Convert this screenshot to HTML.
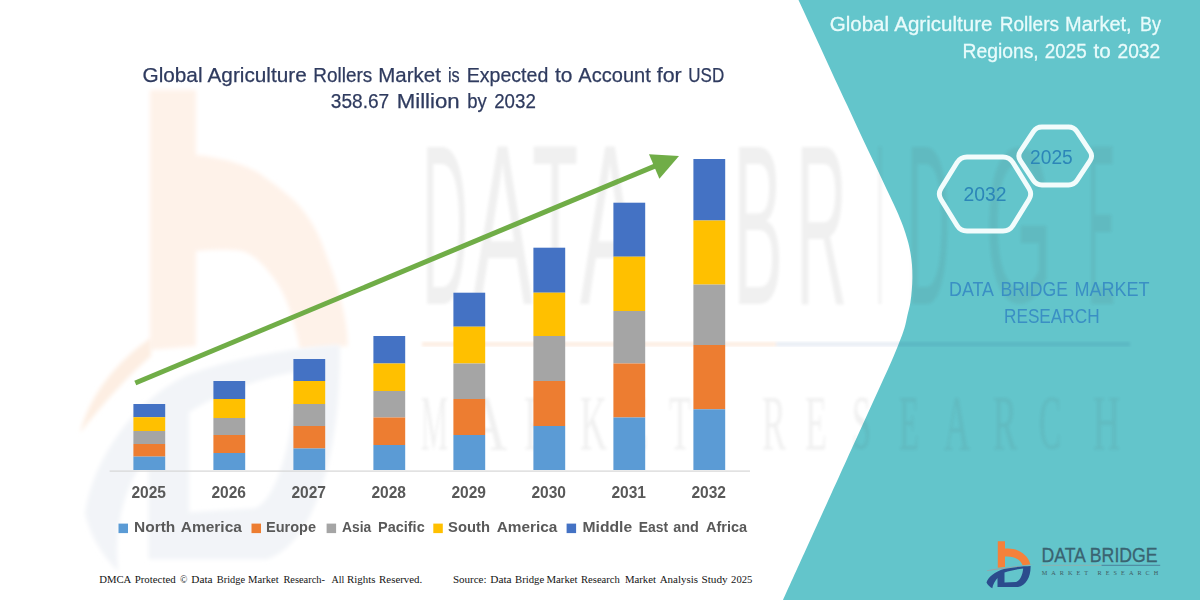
<!DOCTYPE html>
<html lang="en"><head><meta charset="utf-8"><title>Global Agriculture Rollers Market</title>
<style>html,body{margin:0;padding:0;background:#fff;}body{width:1200px;height:600px;overflow:hidden;font-family:"Liberation Sans",sans-serif;}svg{display:block;}</style>
</head><body>
<svg width="1200" height="600" viewBox="0 0 1200 600">
<rect x="0" y="0" width="1200" height="600" fill="#ffffff"/>
<path d="M798.5,0 C800.23,3.75 805.43,15.00 808.9,22.5 C812.37,30.00 815.85,37.50 819.3,45 C822.75,52.50 826.15,60.00 829.6,67.5 C833.05,75.00 836.70,82.92 840,90 C843.30,97.08 846.30,103.33 849.4,110 C852.50,116.67 855.50,123.33 858.6,130 C861.70,136.67 864.83,143.33 868,150 C871.17,156.67 874.43,163.33 877.6,170 C880.77,176.67 883.87,183.33 887,190 C890.13,196.67 893.73,204.00 896.4,210 C899.07,216.00 901.15,221.00 903,226 C904.85,231.00 906.28,235.67 907.5,240 C908.72,244.33 909.55,247.83 910.3,252 C911.05,256.17 911.65,260.67 912,265 C912.35,269.33 912.43,273.83 912.4,278 C912.37,282.17 912.15,285.83 911.8,290 C911.45,294.17 911.02,298.83 910.3,303 C909.58,307.17 908.47,310.83 907.5,315 C906.53,319.17 905.85,323.50 904.5,328 C903.15,332.50 901.55,336.50 899.4,342 C897.25,347.50 894.33,354.67 891.6,361 C888.87,367.33 885.95,373.50 883,380 C880.05,386.50 876.93,393.33 873.9,400 C870.87,406.67 867.83,413.33 864.8,420 C861.77,426.67 858.73,433.33 855.7,440 C852.67,446.67 851.15,450.00 846.6,460 C842.05,470.00 835.22,485.00 828.4,500 C821.58,515.00 813.27,533.33 805.7,550 C798.13,566.67 786.78,591.67 783,600 L1200,600 L1200,0 Z" fill="#63C5CB"/>
<defs><filter id="wmblur" x="-5%" y="-5%" width="110%" height="110%"><feGaussianBlur stdDeviation="1.6"/></filter><filter id="wmblur2" x="-10%" y="-10%" width="120%" height="120%"><feGaussianBlur stdDeviation="2.2"/></filter></defs>
<g id="wm-text" opacity="0.085" filter="url(#wmblur)">
<text transform="matrix(0.3194,0,0,1.1377,422.00,304.00)" font-family='"Liberation Sans", sans-serif' font-size="200" fill="#505050">D</text>
<text transform="matrix(0.4552,0,0,1.1377,472.00,304.00)" font-family='"Liberation Sans", sans-serif' font-size="200" fill="#505050">A</text>
<text transform="matrix(0.3770,0,0,1.1377,532.00,304.00)" font-family='"Liberation Sans", sans-serif' font-size="200" fill="#505050">T</text>
<text transform="matrix(0.4478,0,0,1.1377,580.00,304.00)" font-family='"Liberation Sans", sans-serif' font-size="200" fill="#505050">A</text>
<text transform="matrix(0.3759,0,0,1.1377,733.00,304.00)" font-family='"Liberation Sans", sans-serif' font-size="200" fill="#505050">B</text>
<text transform="matrix(0.3542,0,0,1.1377,796.00,304.00)" font-family='"Liberation Sans", sans-serif' font-size="200" fill="#505050">R</text>
<text transform="matrix(0.1429,0,0,1.1377,876.00,304.00)" font-family='"Liberation Sans", sans-serif' font-size="200" fill="#505050">I</text>
<text transform="matrix(0.2986,0,0,1.1377,907.00,304.00)" font-family='"Liberation Sans", sans-serif' font-size="200" fill="#505050">D</text>
<text transform="matrix(0.4359,0,0,1.1056,985.00,301.79)" font-family='"Liberation Sans", sans-serif' font-size="200" fill="#505050">G</text>
<text transform="matrix(0.2030,0,0,1.1377,1088.00,304.00)" font-family='"Liberation Sans", sans-serif' font-size="200" fill="#505050">E</text>
<text transform="matrix(0.1517,0,0,0.3931,421.00,449.00)" font-family='"Liberation Serif", serif' font-size="200" fill="#505050">M</text>
<text transform="matrix(0.2847,0,0,0.3902,466.00,449.00)" font-family='"Liberation Serif", serif' font-size="200" fill="#505050">A</text>
<text transform="matrix(0.2015,0,0,0.3931,524.00,449.00)" font-family='"Liberation Serif", serif' font-size="200" fill="#505050">R</text>
<text transform="matrix(0.1875,0,0,0.3931,580.00,449.00)" font-family='"Liberation Serif", serif' font-size="200" fill="#505050">K</text>
<text transform="matrix(0.1885,0,0,0.3931,625.00,449.00)" font-family='"Liberation Serif", serif' font-size="200" fill="#505050">E</text>
<text transform="matrix(0.1803,0,0,0.3931,669.00,449.00)" font-family='"Liberation Serif", serif' font-size="200" fill="#505050">T</text>
<text transform="matrix(0.1791,0,0,0.3931,762.00,449.00)" font-family='"Liberation Serif", serif' font-size="200" fill="#505050">R</text>
<text transform="matrix(0.1803,0,0,0.3931,805.00,449.00)" font-family='"Liberation Serif", serif' font-size="200" fill="#505050">E</text>
<text transform="matrix(0.1712,0,0,0.3843,852.00,448.23)" font-family='"Liberation Serif", serif' font-size="200" fill="#505050">S</text>
<text transform="matrix(0.1639,0,0,0.3931,899.00,449.00)" font-family='"Liberation Serif", serif' font-size="200" fill="#505050">E</text>
<text transform="matrix(0.1806,0,0,0.3902,944.00,449.00)" font-family='"Liberation Serif", serif' font-size="200" fill="#505050">A</text>
<text transform="matrix(0.1791,0,0,0.3931,993.00,449.00)" font-family='"Liberation Serif", serif' font-size="200" fill="#505050">R</text>
<text transform="matrix(0.1654,0,0,0.3843,1039.00,448.23)" font-family='"Liberation Serif", serif' font-size="200" fill="#505050">C</text>
<text transform="matrix(0.1875,0,0,0.3931,1093.00,449.00)" font-family='"Liberation Serif", serif' font-size="200" fill="#505050">H</text>
</g>
<rect x="422" y="342" width="354" height="4.5" fill="#fdeee3" filter="url(#wmblur)" style="mix-blend-mode:multiply"/>
<rect x="776" y="342" width="354" height="4.5" fill="#e9eef5" filter="url(#wmblur)" style="mix-blend-mode:multiply"/>
<path d="M150,90 H196 V155 C225,158 250,166 263,176 C282,190 296,200 305,213 C316,228 322,242 326,255 C333,272 337,285 340,297 C344,312 346,322 347,332 L348,346 L300,349 C298,338 295,327 292,317 C287,300 281,287 272,276 C263,264 253,254 242,251 C228,249 212,250 196,251 V346 L150,350 Z" fill="#fef2e9" filter="url(#wmblur2)"/>
<path d="M80,433 C90,394 118,360 151,338 L151,356 C130,374 104,402 80,433 Z" fill="#fdeee2" filter="url(#wmblur2)"/>
<g filter="url(#wmblur2)"><g transform="matrix(5.78,0,0,10.2,47.4,28.8)"><path fill-rule="evenodd" d="M50.6,31 C44,31.2 32,32.2 24,34 C15,36.5 8,42 6.5,47.5 C7.5,50 10,52 12.3,53.2 C11.2,48.5 14,44 17.5,41.8 L17.5,52 L38,52 C46,50.5 50.8,42 50.6,31 Z M24.5,37.6 C30,35.6 37,34.2 43.2,33.6 C42.6,40 40,46 36,47 L24.5,47.4 Z" fill="#f2f4f8"/></g></g>
<rect x="109.6" y="470.5" width="640.4" height="1.2" fill="#d6d6d6"/>
<rect x="133.4" y="404" width="31.8" height="13.20" fill="#4472C4"/>
<rect x="133.4" y="417.2" width="31.8" height="13.80" fill="#FFC000"/>
<rect x="133.4" y="431" width="31.8" height="13.00" fill="#A5A5A5"/>
<rect x="133.4" y="444" width="31.8" height="12.60" fill="#ED7D31"/>
<rect x="133.4" y="456.6" width="31.8" height="13.40" fill="#5B9BD5"/>
<rect x="213.4" y="381" width="31.8" height="18.00" fill="#4472C4"/>
<rect x="213.4" y="399" width="31.8" height="19.00" fill="#FFC000"/>
<rect x="213.4" y="418" width="31.8" height="17.00" fill="#A5A5A5"/>
<rect x="213.4" y="435" width="31.8" height="18.00" fill="#ED7D31"/>
<rect x="213.4" y="453" width="31.8" height="17.00" fill="#5B9BD5"/>
<rect x="293.4" y="359" width="31.8" height="22.00" fill="#4472C4"/>
<rect x="293.4" y="381" width="31.8" height="23.00" fill="#FFC000"/>
<rect x="293.4" y="404" width="31.8" height="22.00" fill="#A5A5A5"/>
<rect x="293.4" y="426" width="31.8" height="22.50" fill="#ED7D31"/>
<rect x="293.4" y="448.5" width="31.8" height="21.50" fill="#5B9BD5"/>
<rect x="373.4" y="336" width="31.8" height="27.50" fill="#4472C4"/>
<rect x="373.4" y="363.5" width="31.8" height="27.50" fill="#FFC000"/>
<rect x="373.4" y="391" width="31.8" height="26.50" fill="#A5A5A5"/>
<rect x="373.4" y="417.5" width="31.8" height="27.50" fill="#ED7D31"/>
<rect x="373.4" y="445" width="31.8" height="25.00" fill="#5B9BD5"/>
<rect x="453.4" y="292.7" width="31.8" height="34.00" fill="#4472C4"/>
<rect x="453.4" y="326.7" width="31.8" height="36.80" fill="#FFC000"/>
<rect x="453.4" y="363.5" width="31.8" height="35.50" fill="#A5A5A5"/>
<rect x="453.4" y="399" width="31.8" height="36.00" fill="#ED7D31"/>
<rect x="453.4" y="435" width="31.8" height="35.00" fill="#5B9BD5"/>
<rect x="533.4" y="247.7" width="31.8" height="45.00" fill="#4472C4"/>
<rect x="533.4" y="292.7" width="31.8" height="43.30" fill="#FFC000"/>
<rect x="533.4" y="336" width="31.8" height="45.00" fill="#A5A5A5"/>
<rect x="533.4" y="381" width="31.8" height="45.00" fill="#ED7D31"/>
<rect x="533.4" y="426" width="31.8" height="44.00" fill="#5B9BD5"/>
<rect x="613.4" y="202.7" width="31.8" height="54.00" fill="#4472C4"/>
<rect x="613.4" y="256.7" width="31.8" height="54.30" fill="#FFC000"/>
<rect x="613.4" y="311" width="31.8" height="52.50" fill="#A5A5A5"/>
<rect x="613.4" y="363.5" width="31.8" height="54.00" fill="#ED7D31"/>
<rect x="613.4" y="417.5" width="31.8" height="52.50" fill="#5B9BD5"/>
<rect x="693.4" y="159" width="31.8" height="61.50" fill="#4472C4"/>
<rect x="693.4" y="220.5" width="31.8" height="64.10" fill="#FFC000"/>
<rect x="693.4" y="284.6" width="31.8" height="60.40" fill="#A5A5A5"/>
<rect x="693.4" y="345" width="31.8" height="64.30" fill="#ED7D31"/>
<rect x="693.4" y="409.3" width="31.8" height="60.70" fill="#5B9BD5"/>
<line x1="135.3" y1="383" x2="656" y2="165.6" stroke="#70AD47" stroke-width="5"/>
<polygon points="679,156 649,154.3 659.4,178.8" fill="#70AD47"/>
<text x="131.4" y="498.4" font-family='"Liberation Sans", sans-serif' font-size="15.6" font-weight="700" fill="#595959" text-anchor="start" textLength="34.6" lengthAdjust="spacingAndGlyphs"  xml:space="preserve">2025</text>
<text x="211.4" y="498.4" font-family='"Liberation Sans", sans-serif' font-size="15.6" font-weight="700" fill="#595959" text-anchor="start" textLength="34.6" lengthAdjust="spacingAndGlyphs"  xml:space="preserve">2026</text>
<text x="291.4" y="498.4" font-family='"Liberation Sans", sans-serif' font-size="15.6" font-weight="700" fill="#595959" text-anchor="start" textLength="34.6" lengthAdjust="spacingAndGlyphs"  xml:space="preserve">2027</text>
<text x="371.4" y="498.4" font-family='"Liberation Sans", sans-serif' font-size="15.6" font-weight="700" fill="#595959" text-anchor="start" textLength="34.6" lengthAdjust="spacingAndGlyphs"  xml:space="preserve">2028</text>
<text x="451.4" y="498.4" font-family='"Liberation Sans", sans-serif' font-size="15.6" font-weight="700" fill="#595959" text-anchor="start" textLength="34.6" lengthAdjust="spacingAndGlyphs"  xml:space="preserve">2029</text>
<text x="531.4" y="498.4" font-family='"Liberation Sans", sans-serif' font-size="15.6" font-weight="700" fill="#595959" text-anchor="start" textLength="34.6" lengthAdjust="spacingAndGlyphs"  xml:space="preserve">2030</text>
<text x="611.4" y="498.4" font-family='"Liberation Sans", sans-serif' font-size="15.6" font-weight="700" fill="#595959" text-anchor="start" textLength="34.6" lengthAdjust="spacingAndGlyphs"  xml:space="preserve">2031</text>
<text x="691.4" y="498.4" font-family='"Liberation Sans", sans-serif' font-size="15.6" font-weight="700" fill="#595959" text-anchor="start" textLength="34.6" lengthAdjust="spacingAndGlyphs"  xml:space="preserve">2032</text>
<rect x="118.5" y="523.6" width="9.5" height="9.5" fill="#5B9BD5"/>
<rect x="251.5" y="523.6" width="9.5" height="9.5" fill="#ED7D31"/>
<rect x="326.6" y="523.6" width="9.5" height="9.5" fill="#A5A5A5"/>
<rect x="433.3" y="523.6" width="9.5" height="9.5" fill="#FFC000"/>
<rect x="566.6" y="523.6" width="9.5" height="9.5" fill="#4472C4"/>
<text x="134.0" y="532.4" font-family='"Liberation Sans", sans-serif' font-size="15.2" font-weight="700" fill="#595959" text-anchor="start" textLength="41.32" lengthAdjust="spacingAndGlyphs"  xml:space="preserve">North</text>
<text x="180.7" y="532.4" font-family='"Liberation Sans", sans-serif' font-size="15.2" font-weight="700" fill="#595959" text-anchor="start" textLength="61.21" lengthAdjust="spacingAndGlyphs"  xml:space="preserve">America</text>
<text x="266.0" y="532.4" font-family='"Liberation Sans", sans-serif' font-size="15.2" font-weight="700" fill="#595959" text-anchor="start" textLength="50.1" lengthAdjust="spacingAndGlyphs"  xml:space="preserve">Europe</text>
<text x="342.0" y="532.4" font-family='"Liberation Sans", sans-serif' font-size="15.2" font-weight="700" fill="#595959" text-anchor="start" textLength="29.23" lengthAdjust="spacingAndGlyphs"  xml:space="preserve">Asia</text>
<text x="378.0" y="532.4" font-family='"Liberation Sans", sans-serif' font-size="15.2" font-weight="700" fill="#595959" text-anchor="start" textLength="46.69" lengthAdjust="spacingAndGlyphs"  xml:space="preserve">Pacific</text>
<text x="448.1" y="532.4" font-family='"Liberation Sans", sans-serif' font-size="15.2" font-weight="700" fill="#595959" text-anchor="start" textLength="41.9" lengthAdjust="spacingAndGlyphs"  xml:space="preserve">South</text>
<text x="496.7" y="532.4" font-family='"Liberation Sans", sans-serif' font-size="15.2" font-weight="700" fill="#595959" text-anchor="start" textLength="60.71" lengthAdjust="spacingAndGlyphs"  xml:space="preserve">America</text>
<text x="582.5" y="532.4" font-family='"Liberation Sans", sans-serif' font-size="15.2" font-weight="700" fill="#595959" text-anchor="start" textLength="49.59" lengthAdjust="spacingAndGlyphs"  xml:space="preserve">Middle</text>
<text x="638.8" y="532.4" font-family='"Liberation Sans", sans-serif' font-size="15.2" font-weight="700" fill="#595959" text-anchor="start" textLength="29.3" lengthAdjust="spacingAndGlyphs"  xml:space="preserve">East</text>
<text x="673.2" y="532.4" font-family='"Liberation Sans", sans-serif' font-size="15.2" font-weight="700" fill="#595959" text-anchor="start" textLength="25.61" lengthAdjust="spacingAndGlyphs"  xml:space="preserve">and</text>
<text x="706.0" y="532.4" font-family='"Liberation Sans", sans-serif' font-size="15.2" font-weight="700" fill="#595959" text-anchor="start" textLength="41.22" lengthAdjust="spacingAndGlyphs"  xml:space="preserve">Africa</text>
<text x="142.5" y="81.7" font-family='"Liberation Sans", sans-serif' font-size="20.5" font-weight="400" fill="#2F3B5F" text-anchor="start" textLength="60.02" lengthAdjust="spacingAndGlyphs" stroke="#2F3B5F" stroke-width="0.25" xml:space="preserve">Global</text>
<text x="207.5" y="81.7" font-family='"Liberation Sans", sans-serif' font-size="20.5" font-weight="400" fill="#2F3B5F" text-anchor="start" textLength="99.2" lengthAdjust="spacingAndGlyphs" stroke="#2F3B5F" stroke-width="0.25" xml:space="preserve">Agriculture</text>
<text x="313.3" y="81.7" font-family='"Liberation Sans", sans-serif' font-size="20.5" font-weight="400" fill="#2F3B5F" text-anchor="start" textLength="58.89" lengthAdjust="spacingAndGlyphs" stroke="#2F3B5F" stroke-width="0.25" xml:space="preserve">Rollers</text>
<text x="378.3" y="81.7" font-family='"Liberation Sans", sans-serif' font-size="20.5" font-weight="400" fill="#2F3B5F" text-anchor="start" textLength="62.52" lengthAdjust="spacingAndGlyphs" stroke="#2F3B5F" stroke-width="0.25" xml:space="preserve">Market</text>
<text x="448.0" y="81.7" font-family='"Liberation Sans", sans-serif' font-size="20.5" font-weight="400" fill="#2F3B5F" text-anchor="start" textLength="11.69" lengthAdjust="spacingAndGlyphs" stroke="#2F3B5F" stroke-width="0.25" xml:space="preserve">is</text>
<text x="466.7" y="81.7" font-family='"Liberation Sans", sans-serif' font-size="20.5" font-weight="400" fill="#2F3B5F" text-anchor="start" textLength="81.59" lengthAdjust="spacingAndGlyphs" stroke="#2F3B5F" stroke-width="0.25" xml:space="preserve">Expected</text>
<text x="555.0" y="81.7" font-family='"Liberation Sans", sans-serif' font-size="20.5" font-weight="400" fill="#2F3B5F" text-anchor="start" textLength="17.48" lengthAdjust="spacingAndGlyphs" stroke="#2F3B5F" stroke-width="0.25" xml:space="preserve">to</text>
<text x="578.3" y="81.7" font-family='"Liberation Sans", sans-serif' font-size="20.5" font-weight="400" fill="#2F3B5F" text-anchor="start" textLength="72.52" lengthAdjust="spacingAndGlyphs" stroke="#2F3B5F" stroke-width="0.25" xml:space="preserve">Account</text>
<text x="656.7" y="81.7" font-family='"Liberation Sans", sans-serif' font-size="20.5" font-weight="400" fill="#2F3B5F" text-anchor="start" textLength="24.99" lengthAdjust="spacingAndGlyphs" stroke="#2F3B5F" stroke-width="0.25" xml:space="preserve">for</text>
<text x="688.3" y="81.7" font-family='"Liberation Sans", sans-serif' font-size="20.5" font-weight="400" fill="#2F3B5F" text-anchor="start" textLength="35.88" lengthAdjust="spacingAndGlyphs" stroke="#2F3B5F" stroke-width="0.25" xml:space="preserve">USD</text>
<text x="330.8" y="108.4" font-family='"Liberation Sans", sans-serif' font-size="20.5" font-weight="400" fill="#2F3B5F" text-anchor="start" textLength="58.42" lengthAdjust="spacingAndGlyphs" stroke="#2F3B5F" stroke-width="0.25" xml:space="preserve">358.67</text>
<text x="396.7" y="108.4" font-family='"Liberation Sans", sans-serif' font-size="20.5" font-weight="400" fill="#2F3B5F" text-anchor="start" textLength="62.98" lengthAdjust="spacingAndGlyphs" stroke="#2F3B5F" stroke-width="0.25" xml:space="preserve">Million</text>
<text x="467.2" y="108.4" font-family='"Liberation Sans", sans-serif' font-size="20.5" font-weight="400" fill="#2F3B5F" text-anchor="start" textLength="19.52" lengthAdjust="spacingAndGlyphs" stroke="#2F3B5F" stroke-width="0.25" xml:space="preserve">by</text>
<text x="494.2" y="108.4" font-family='"Liberation Sans", sans-serif' font-size="20.5" font-weight="400" fill="#2F3B5F" text-anchor="start" textLength="41.59" lengthAdjust="spacingAndGlyphs" stroke="#2F3B5F" stroke-width="0.25" xml:space="preserve">2032</text>
<text x="829.75" y="31.3" font-family='"Liberation Sans", sans-serif' font-size="20.5" font-weight="400" fill="#E9FBFB" text-anchor="start" textLength="59.27" lengthAdjust="spacingAndGlyphs" stroke="#E9FBFB" stroke-width="0.3" xml:space="preserve">Global</text>
<text x="894.2" y="31.3" font-family='"Liberation Sans", sans-serif' font-size="20.5" font-weight="400" fill="#E9FBFB" text-anchor="start" textLength="98.3" lengthAdjust="spacingAndGlyphs" stroke="#E9FBFB" stroke-width="0.3" xml:space="preserve">Agriculture</text>
<text x="999.75" y="31.3" font-family='"Liberation Sans", sans-serif' font-size="20.5" font-weight="400" fill="#E9FBFB" text-anchor="start" textLength="59.24" lengthAdjust="spacingAndGlyphs" stroke="#E9FBFB" stroke-width="0.3" xml:space="preserve">Rollers</text>
<text x="1065.0" y="31.3" font-family='"Liberation Sans", sans-serif' font-size="20.5" font-weight="400" fill="#E9FBFB" text-anchor="start" textLength="66.68" lengthAdjust="spacingAndGlyphs" stroke="#E9FBFB" stroke-width="0.3" xml:space="preserve">Market,</text>
<text x="1140.0" y="31.3" font-family='"Liberation Sans", sans-serif' font-size="20.5" font-weight="400" fill="#E9FBFB" text-anchor="start" textLength="20.99" lengthAdjust="spacingAndGlyphs" stroke="#E9FBFB" stroke-width="0.3" xml:space="preserve">By</text>
<text x="962.5" y="58.0" font-family='"Liberation Sans", sans-serif' font-size="20.5" font-weight="400" fill="#E9FBFB" text-anchor="start" textLength="76.24" lengthAdjust="spacingAndGlyphs" stroke="#E9FBFB" stroke-width="0.3" xml:space="preserve">Regions,</text>
<text x="1044.75" y="58.0" font-family='"Liberation Sans", sans-serif' font-size="20.5" font-weight="400" fill="#E9FBFB" text-anchor="start" textLength="41.99" lengthAdjust="spacingAndGlyphs" stroke="#E9FBFB" stroke-width="0.3" xml:space="preserve">2025</text>
<text x="1093.5" y="58.0" font-family='"Liberation Sans", sans-serif' font-size="20.5" font-weight="400" fill="#E9FBFB" text-anchor="start" textLength="17.23" lengthAdjust="spacingAndGlyphs" stroke="#E9FBFB" stroke-width="0.3" xml:space="preserve">to</text>
<text x="1117.5" y="58.0" font-family='"Liberation Sans", sans-serif' font-size="20.5" font-weight="400" fill="#E9FBFB" text-anchor="start" textLength="42.74" lengthAdjust="spacingAndGlyphs" stroke="#E9FBFB" stroke-width="0.3" xml:space="preserve">2032</text>
<path d="M941.02,199.53 Q937.60,194.00 941.02,188.47 L957.08,162.53 Q960.50,157.00 967.00,157.00 L1003.00,157.00 Q1009.50,157.00 1012.92,162.53 L1028.98,188.47 Q1032.40,194.00 1028.98,199.53 L1012.92,225.47 Q1009.50,231.00 1003.00,231.00 L967.00,231.00 Q960.50,231.00 957.08,225.47 Z" fill="none" stroke="#F2FCFC" stroke-width="4.9" stroke-linejoin="round"/>
<path d="M1020.33,160.59 Q1017.30,156.00 1020.33,151.41 L1033.37,131.59 Q1036.40,127.00 1041.90,127.00 L1068.50,127.00 Q1074.00,127.00 1077.03,131.59 L1090.07,151.41 Q1093.10,156.00 1090.07,160.59 L1077.03,180.41 Q1074.00,185.00 1068.50,185.00 L1041.90,185.00 Q1036.40,185.00 1033.37,180.41 Z" fill="none" stroke="#F2FCFC" stroke-width="4.9" stroke-linejoin="round"/>
<text x="963.4" y="200.7" font-family='"Liberation Sans", sans-serif' font-size="20" font-weight="400" fill="#2C86B8" text-anchor="start" textLength="43" lengthAdjust="spacingAndGlyphs"  xml:space="preserve">2032</text>
<text x="1030.1" y="163.9" font-family='"Liberation Sans", sans-serif' font-size="20" font-weight="400" fill="#2C86B8" text-anchor="start" textLength="42.7" lengthAdjust="spacingAndGlyphs"  xml:space="preserve">2025</text>
<text x="949.0" y="296" font-family='"Liberation Sans", sans-serif' font-size="20.8" font-weight="400" fill="#3A8FC4" text-anchor="start" textLength="44.97" lengthAdjust="spacingAndGlyphs"  xml:space="preserve">DATA</text>
<text x="1000.4" y="296" font-family='"Liberation Sans", sans-serif' font-size="20.8" font-weight="400" fill="#3A8FC4" text-anchor="start" textLength="67.58" lengthAdjust="spacingAndGlyphs"  xml:space="preserve">BRIDGE</text>
<text x="1074.4" y="296" font-family='"Liberation Sans", sans-serif' font-size="20.8" font-weight="400" fill="#3A8FC4" text-anchor="start" textLength="75.19" lengthAdjust="spacingAndGlyphs"  xml:space="preserve">MARKET</text>
<text x="1004.0" y="323" font-family='"Liberation Sans", sans-serif' font-size="20.8" font-weight="400" fill="#3A8FC4" text-anchor="start" textLength="95.59" lengthAdjust="spacingAndGlyphs"  xml:space="preserve">RESEARCH</text>
<g id="logo-small" transform="translate(980,535)">
<path d="M17.8,6.2 H25 V13.6 C36,12.4 47.5,18 50.4,29.5 L42.6,30.3 C40,24.2 34,21 25,21.6 V32 L17.8,32.7 Z" fill="#F5813A"/>
<path d="M7,35.3 C22,32.6 40,30.6 55,29.6 C40,31.4 22,33.8 7,36.1 Z" fill="#9aa3a6"/>
<path fill-rule="evenodd" d="M50.6,31 C44,31.2 32,32.2 24,34 C15,36.5 8,42 6.5,47.5 C7.5,50 10,52 12.3,53.2 C12.8,49.5 15.2,45.6 17.5,43 L17.5,52 L38,52 C46,50.5 50.8,42 50.6,31 Z M24.5,37.6 C30,35.6 37,34.2 43.2,33.6 C42.6,40 40,46 36,47 L24.5,47.4 Z" fill="#2B4C8D"/>
</g>
<text x="1041.4" y="562.3" font-family='"Liberation Sans", sans-serif' font-size="21" fill="#3A6371" stroke="#3A6371" stroke-width="0.3" textLength="116.2" lengthAdjust="spacingAndGlyphs">DATA BRIDGE</text>
<rect x="1041.6" y="564.8" width="60" height="1" fill="#8fb0ae"/>
<rect x="1101.6" y="564.8" width="58.6" height="1" fill="#4d7f9a"/>
<text x="1041.8" y="575.3" font-family='"Liberation Serif", serif' font-size="6.2" fill="#3f5a62" textLength="116.4" lengthAdjust="spacing">MARKET  RESEARCH</text>

<text x="99.2" y="582.7" font-family='"Liberation Serif", serif' font-size="11" font-weight="400" fill="#141414" text-anchor="start" textLength="32.11" lengthAdjust="spacingAndGlyphs"  xml:space="preserve">DMCA</text>
<text x="134.7" y="582.7" font-family='"Liberation Serif", serif' font-size="11" font-weight="400" fill="#141414" text-anchor="start" textLength="40.99" lengthAdjust="spacingAndGlyphs"  xml:space="preserve">Protected</text>
<text x="180.0" y="582.7" font-family='"Liberation Serif", serif' font-size="11" font-weight="400" fill="#141414" text-anchor="start" textLength="7.4" lengthAdjust="spacingAndGlyphs"  xml:space="preserve">©</text>
<text x="191.3" y="582.7" font-family='"Liberation Serif", serif' font-size="11" font-weight="400" fill="#141414" text-anchor="start" textLength="21.3" lengthAdjust="spacingAndGlyphs"  xml:space="preserve">Data</text>
<text x="216.8" y="582.7" font-family='"Liberation Serif", serif' font-size="11" font-weight="400" fill="#141414" text-anchor="start" textLength="28.29" lengthAdjust="spacingAndGlyphs"  xml:space="preserve">Bridge</text>
<text x="248.0" y="582.7" font-family='"Liberation Serif", serif' font-size="11" font-weight="400" fill="#141414" text-anchor="start" textLength="30.6" lengthAdjust="spacingAndGlyphs"  xml:space="preserve">Market</text>
<text x="283.4" y="582.7" font-family='"Liberation Serif", serif' font-size="11" font-weight="400" fill="#141414" text-anchor="start" textLength="41.6" lengthAdjust="spacingAndGlyphs"  xml:space="preserve">Research-</text>
<text x="331.5" y="582.7" font-family='"Liberation Serif", serif' font-size="11" font-weight="400" fill="#141414" text-anchor="start" textLength="12.8" lengthAdjust="spacingAndGlyphs"  xml:space="preserve">All</text>
<text x="347.1" y="582.7" font-family='"Liberation Serif", serif' font-size="11" font-weight="400" fill="#141414" text-anchor="start" textLength="28.39" lengthAdjust="spacingAndGlyphs"  xml:space="preserve">Rights</text>
<text x="379.1" y="582.7" font-family='"Liberation Serif", serif' font-size="11" font-weight="400" fill="#141414" text-anchor="start" textLength="43.11" lengthAdjust="spacingAndGlyphs"  xml:space="preserve">Reserved.</text>
<text x="452.9" y="582.7" font-family='"Liberation Serif", serif' font-size="11" font-weight="400" fill="#141414" text-anchor="start" textLength="33.7" lengthAdjust="spacingAndGlyphs"  xml:space="preserve">Source:</text>
<text x="490.3" y="582.7" font-family='"Liberation Serif", serif' font-size="11" font-weight="400" fill="#141414" text-anchor="start" textLength="21.3" lengthAdjust="spacingAndGlyphs"  xml:space="preserve">Data</text>
<text x="515.0" y="582.7" font-family='"Liberation Serif", serif' font-size="11" font-weight="400" fill="#141414" text-anchor="start" textLength="29.19" lengthAdjust="spacingAndGlyphs"  xml:space="preserve">Bridge</text>
<text x="546.4" y="582.7" font-family='"Liberation Serif", serif' font-size="11" font-weight="400" fill="#141414" text-anchor="start" textLength="31.2" lengthAdjust="spacingAndGlyphs"  xml:space="preserve">Market</text>
<text x="581.0" y="582.7" font-family='"Liberation Serif", serif' font-size="11" font-weight="400" fill="#141414" text-anchor="start" textLength="38.8" lengthAdjust="spacingAndGlyphs"  xml:space="preserve">Research</text>
<text x="624.9" y="582.7" font-family='"Liberation Serif", serif' font-size="11" font-weight="400" fill="#141414" text-anchor="start" textLength="31.1" lengthAdjust="spacingAndGlyphs"  xml:space="preserve">Market</text>
<text x="659.7" y="582.7" font-family='"Liberation Serif", serif' font-size="11" font-weight="400" fill="#141414" text-anchor="start" textLength="38.3" lengthAdjust="spacingAndGlyphs"  xml:space="preserve">Analysis</text>
<text x="701.4" y="582.7" font-family='"Liberation Serif", serif' font-size="11" font-weight="400" fill="#141414" text-anchor="start" textLength="26.29" lengthAdjust="spacingAndGlyphs"  xml:space="preserve">Study</text>
<text x="731.1" y="582.7" font-family='"Liberation Serif", serif' font-size="11" font-weight="400" fill="#141414" text-anchor="start" textLength="21.3" lengthAdjust="spacingAndGlyphs"  xml:space="preserve">2025</text>
</svg>
</body></html>
